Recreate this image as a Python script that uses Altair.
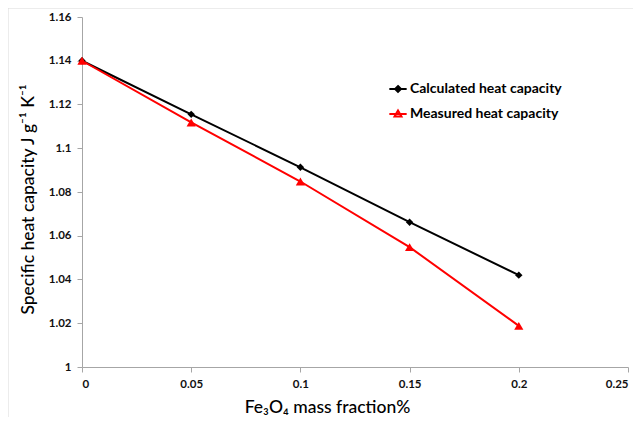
import altair as alt
import pandas as pd

fractions = [0, 0.05, 0.1, 0.15, 0.2]
calculated = [1.140, 1.1155, 1.0913, 1.0662, 1.0420]
measured = [1.140, 1.1118, 1.0848, 1.0548, 1.0188]
series_names = ["Calculated heat capacity", "Measured heat capacity"]
series_colors = ["#000000", "#FF0000"]
x_ticks = [0, 0.05, 0.1, 0.15, 0.2, 0.25]
y_ticks = [1, 1.02, 1.04, 1.06, 1.08, 1.1, 1.12, 1.14, 1.16]

rows = []
for f, c, m in zip(fractions, calculated, measured):
    rows.append({"x": f, "y": c, "series": series_names[0]})
    rows.append({"x": f, "y": m, "series": series_names[1]})
df = pd.DataFrame(rows)

W, H = 546, 350

xenc = alt.X("x:Q", scale=alt.Scale(domain=[0, 0.25], nice=False, zero=False),
             axis=alt.Axis(values=x_ticks, format="~g", title="Fe₃O₄ mass fraction%",
                           titleX=245, titlePadding=9, labelPadding=6))
yenc = alt.Y("y:Q", scale=alt.Scale(domain=[1, 1.16], nice=False, zero=False),
             axis=alt.Axis(values=y_ticks, format="~g",
                           title="Specific heat capacity J g⁻¹ K⁻¹",
                           titlePadding=11, labelPadding=6, titleY=182))

color_scale = alt.Scale(domain=series_names, range=series_colors)

lines = alt.Chart(df).mark_line(strokeWidth=2).encode(
    x=xenc, y=yenc,
    color=alt.Color("series:N", scale=color_scale, legend=None),
)

points = alt.Chart(df).mark_point(filled=True, opacity=1).encode(
    x="x:Q", y="y:Q",
    fill=alt.Fill("series:N", scale=color_scale, legend=None),
    shape=alt.Shape("series:N", scale=alt.Scale(domain=series_names, range=["diamond", "triangle-up"]), legend=None),
    size=alt.Size("series:N", scale=alt.Scale(domain=series_names, range=[55, 85]), legend=None),
)

fill_expr = "datum.value == '%s' ? '%s' : '%s'" % (series_names[0], series_colors[0], series_colors[1])

legend_layer = alt.Chart(df).transform_filter("false").mark_point(filled=False, opacity=1, strokeWidth=2).encode(
    x="x:Q", y="y:Q",
    stroke=alt.Stroke("series:N", scale=alt.Scale(domain=series_names, range=series_colors),
                      legend=alt.Legend(title=None, orient="none", legendX=306, legendY=62,
                                        labelFontSize=14, labelFontWeight="bold", labelFont="Lato",
                                        labelColor="#000000", symbolSize=300, symbolStrokeWidth=2,
                                        symbolFillColor={"expr": fill_expr},
                                        rowPadding=8, labelOffset=2, padding=0, labelLimit=400)),
    shape=alt.Shape("series:N", scale=alt.Scale(domain=series_names, range=[
        "M-1,0H1M0,-0.34L0.34,0L0,0.34L-0.34,0Z",
        "M-1,0H1M0,-0.4L0.4,0.28L-0.4,0.28Z",
    ])),
)

border = alt.Chart(pd.DataFrame({"a": [0]})).mark_rect(
    fill=None, stroke="#D9D9D9", strokeWidth=1, clip=False
).encode(x=alt.value(-74), x2=alt.value(W + 40), y=alt.value(-9), y2=alt.value(H + 60))

chart = alt.layer(border, lines, points, legend_layer).resolve_scale(
    shape="independent", fill="independent", size="independent", stroke="independent"
).properties(
    width=W, height=H,
    autosize=alt.AutoSizeParams(type="none"),
    padding={"left": 74, "top": 9, "right": 5, "bottom": 50},
).configure_view(stroke=None).configure_axis(
    grid=False,
    domainColor="#A6A6A6", tickColor="#A6A6A6", tickSize=5,
    labelFont="Lato", labelFontWeight="bold", labelFontSize=11.5, labelColor="#111111",
    titleFont="Lato", titleFontWeight=500, titleFontSize=17.5, titleColor="#000000",
)

chart.save("out.html", embed_options={"renderer": "svg", "actions": False})
